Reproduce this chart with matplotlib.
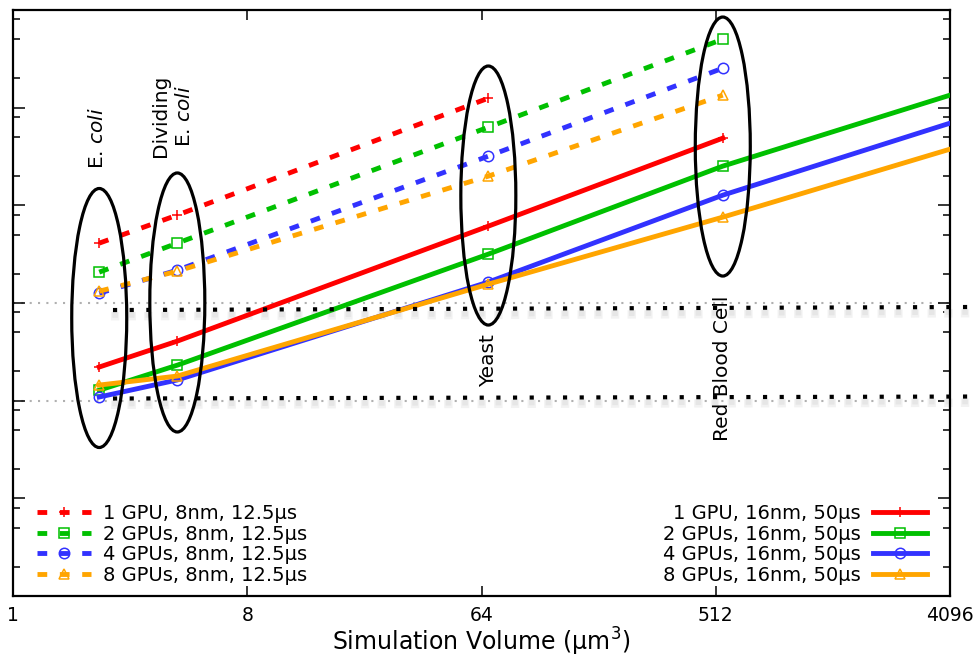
import numpy as np
import matplotlib
matplotlib.use('Agg')
import matplotlib.pyplot as plt
from matplotlib.patches import Ellipse
from matplotlib.ticker import LogLocator, NullLocator, NullFormatter, FixedLocator, FixedFormatter
import matplotlib.transforms as mtransforms

# ---------------- data ----------------
volumes = [2.15, 4.3, 68, 545, 4096]          # simulated volume (um^3)
cell_names = ['E. $\\mathit{coli}$', 'Dividing\nE. $\\mathit{coli}$', 'Yeast', 'Red Blood Cell']

labels_8nm = ['1 GPU, 8nm, 12.5µs', '2 GPUs, 8nm, 12.5µs',
              '4 GPUs, 8nm, 12.5µs', '8 GPUs, 8nm, 12.5µs']
labels_16nm = ['1 GPU, 16nm, 50µs', '2 GPUs, 16nm, 50µs',
               '4 GPUs, 16nm, 50µs', '8 GPUs, 16nm, 50µs']

fine_1gpu = [4100, 7950, 125000]
fine_2gpu = [2070, 4100, 63100, 502000]
fine_4gpu = [1260, 2170, 31900, 253500]
fine_8gpu = [1320, 2120, 19900, 134300]

coarse_1gpu = [221, 407, 6120, 48750]
coarse_2gpu = [128, 231, 3165, 25200, 134300]
coarse_4gpu = [109, 163, 1637, 12710, 69400]
coarse_8gpu = [144.5, 178.6, 1560, 7570, 37600]

xticks = [1, 8, 64, 512, 4096]
xtick_labels = ['1', '8', '64', '512', '4096']

colors = ['#ff0000', '#00c000', '#3232ff', '#ffa500']
markers = ['+', 's', 'o', '^']

# ---------------- figure ----------------
fig = plt.figure(figsize=(9.75, 6.57), dpi=100)
ax = fig.add_axes([13/975, 61/657, 937/975, 586/657])
ax.set_xscale('log', base=2)
ax.set_yscale('log')
ax.set_xlim(1, 4096)
ax.set_ylim(1, 1e6)

fine = [fine_1gpu, fine_2gpu, fine_4gpu, fine_8gpu]
coarse = [coarse_1gpu, coarse_2gpu, coarse_4gpu, coarse_8gpu]

fine_lines = []
for ys, c, m in zip(fine, colors, markers):
    n = len(ys)
    ln, = ax.plot(volumes[:n], ys, color=c, lw=3.5, dashes=(2.0, 2.6),
                  dash_capstyle='butt', marker=m, markersize=7.5,
                  markerfacecolor='none', markeredgecolor=c, markeredgewidth=1.1,
                  markevery=list(range(min(n, 4))), zorder=3)
    fine_lines.append(ln)

coarse_lines = []
for ys, c, m in zip(coarse, colors, markers):
    n = len(ys)
    ln, = ax.plot(volumes[:n], ys, color=c, lw=3.5, marker=m, markersize=7.5,
                  markerfacecolor='none', markeredgecolor=c, markeredgewidth=1.1,
                  markevery=list(range(min(n, 4))), zorder=3)
    coarse_lines.append(ln)

# grey reference lines
for yref in [1e2, 1e3]:
    ax.axhline(yref, color='#b0b0b0', lw=1.5, dashes=(1, 3), dash_capstyle='butt', zorder=1)

# black dotted lines with soft shadow
for k, (dy, col, lw, dsh) in enumerate([(-4.5, '#f2f2f2', 6.0, (1, 1.0)),
                                         (-3.6, '#e6e6e6', 4.0, (1, 2.0))]):
    shadow = ax.transAxes + mtransforms.ScaledTranslation(0, dy/72, fig.dpi_scale_trans)
    for (y0, y1) in [(0.488, 0.4932), (0.337, 0.3404)]:
        ax.plot([0.1067 - 0.5*(lw-3)/72*100/937, 1.027], [y0, y1], transform=shadow,
                color=col, lw=lw, dashes=dsh, dash_capstyle='butt', clip_on=False, zorder=2)
for (y0, y1) in [(0.488, 0.4932), (0.337, 0.3404)]:
    ax.plot([0.1067, 1.027], [y0, y1], transform=ax.transAxes, color='black', lw=3,
            dashes=(1, 3), dash_capstyle='butt', clip_on=False, zorder=4)

# ellipses and annotations
to_axes = ax.transData + ax.transAxes.inverted()
ell_cy = [0.4744, 0.5009, 0.6834, 0.767]
for v, cy in zip(volumes[:4], ell_cy):
    cx = to_axes.transform((v, 1.0))[0]
    ax.add_patch(Ellipse((cx, cy), 0.0587, 0.442, transform=ax.transAxes,
                         fill=False, ec='black', lw=2.3, zorder=6))

txt_y = [0.7816, 0.819, 0.401, 0.389]
txt_dx = [-2, -5, 0, 0]   # pixel nudges
xt = ax.get_xaxis_transform()
for v, name, ty, dx in zip(volumes[:4], cell_names, txt_y, txt_dx):
    tr = xt + mtransforms.ScaledTranslation(dx/100, 0, fig.dpi_scale_trans)
    ax.text(v, ty, name, transform=tr, rotation=90, ha='center', va='center',
            fontsize=14.5, linespacing=1.3, multialignment='center', zorder=7)

# ticks / spines
ax.xaxis.set_major_locator(FixedLocator(xticks))
ax.xaxis.set_major_formatter(FixedFormatter(xtick_labels))
ax.xaxis.set_minor_locator(NullLocator())
ax.yaxis.set_major_locator(LogLocator(base=10, numticks=20))
ax.yaxis.set_minor_locator(LogLocator(base=10, subs=(2, 5, 8), numticks=20))
ax.yaxis.set_minor_formatter(NullFormatter())
ax.tick_params(axis='both', which='both', direction='in', top=True, right=True)
ax.tick_params(axis='y', which='major', length=8.5, width=1.1, labelleft=False)
ax.tick_params(axis='y', which='minor', length=5, width=1.1)
ax.tick_params(axis='x', which='major', length=7, width=1.1, labelsize=13.5, pad=7)
for s in ax.spines.values():
    s.set_linewidth(1.6)

ax.set_xlabel('Simulation Volume (µm$^3$)', fontsize=17, labelpad=1)

# legends
common = dict(frameon=False, fontsize=14, handlelength=2.8, handletextpad=0.6,
              labelspacing=0.08, borderpad=0, borderaxespad=0, numpoints=1,
              bbox_transform=fig.transFigure)
leg1 = ax.legend(handles=fine_lines, labels=labels_8nm, loc='upper left',
                 bbox_to_anchor=(37/975, 1 - 504/657), **common)
ax.add_artist(leg1)
leg2 = ax.legend(handles=coarse_lines, labels=labels_16nm, loc='upper right',
                 bbox_to_anchor=(927/975, 1 - 504/657), markerfirst=False, **common)
for col in leg2._legend_handle_box.get_children():
    col.align = 'right'

fig.savefig('out.png', dpi=100)
